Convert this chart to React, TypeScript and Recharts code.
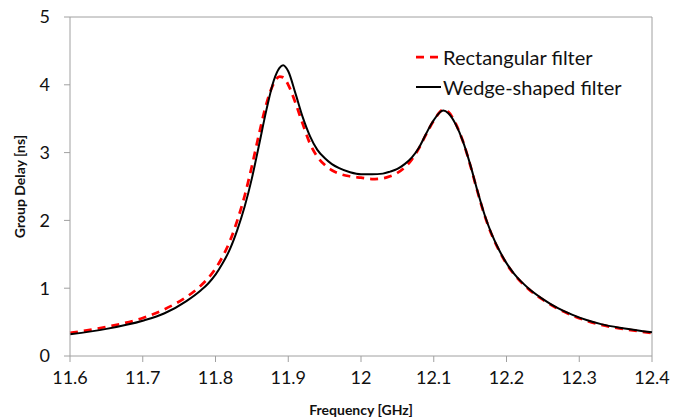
import React from 'react'
import { LineChart, Line, XAxis, YAxis, ReferenceLine } from 'recharts'

// frequency sweep in GHz (shared by both filters)
const freq = [
  11.6, 11.65, 11.7, 11.73, 11.76, 11.78, 11.79, 11.8, 11.81, 11.82, 11.83, 11.84,
  11.85, 11.86, 11.87, 11.88, 11.888, 11.893, 11.9, 11.91, 11.92, 11.93, 11.94, 11.95,
  11.96, 11.97, 11.985, 12.0, 12.015, 12.03, 12.04, 12.05, 12.06, 12.07, 12.08, 12.09,
  12.1, 12.113, 12.12, 12.13, 12.14, 12.15, 12.16, 12.17, 12.18, 12.19, 12.2, 12.21,
  12.22, 12.23, 12.25, 12.27, 12.29, 12.31, 12.33, 12.36, 12.4,
]

// group delay in ns
const rectangular = [
  0.34, 0.43, 0.56, 0.69, 0.87, 1.04, 1.15, 1.29, 1.47, 1.7, 2.0, 2.36,
  2.8, 3.28, 3.72, 4.02, 4.12, 4.11, 4.0, 3.73, 3.42, 3.13, 2.94, 2.82,
  2.74, 2.69, 2.65, 2.63, 2.61, 2.62, 2.65, 2.7, 2.78, 2.9, 3.07, 3.28,
  3.47, 3.63, 3.6, 3.43, 3.17, 2.82, 2.43, 2.07, 1.78, 1.55, 1.36, 1.21,
  1.09, 0.99, 0.83, 0.7, 0.6, 0.52, 0.46, 0.4, 0.34,
]
const wedge = [
  0.32, 0.4, 0.52, 0.63, 0.81, 0.97, 1.07, 1.2, 1.37, 1.58, 1.86, 2.2,
  2.62, 3.12, 3.63, 4.06, 4.25, 4.29, 4.2, 3.87, 3.52, 3.24, 3.04, 2.92,
  2.83, 2.77, 2.71, 2.68, 2.68, 2.69, 2.72, 2.76, 2.83, 2.93, 3.08, 3.29,
  3.48, 3.62, 3.58, 3.42, 3.17, 2.83, 2.44, 2.08, 1.79, 1.56, 1.37, 1.22,
  1.1, 1.0, 0.84, 0.71, 0.61, 0.53, 0.47, 0.41, 0.35,
]

const xTicks = [11.6, 11.7, 11.8, 11.9, 12, 12.1, 12.2, 12.3, 12.4]
const yTicks = [0, 1, 2, 3, 4, 5]

const data = freq.map((f, i) => ({ f, rect: rectangular[i], wedge: wedge[i] }))

const FONT = 'Lato, "Open Sans", sans-serif'
const AXIS = '#a0a0a0'

// legend drawn as an overlay so it doesn't shrink the plot area
function LegendBox() {
  return (
    <div
      style={{
        position: 'absolute', left: 414, top: 42,
        fontFamily: FONT, fontSize: 20, color: '#111', lineHeight: '30px',
      }}
    >
      <div style={{ display: 'flex', alignItems: 'center' }}>
        <svg width={29} height={10}>
          <line x1={2} y1={5} x2={27} y2={5} stroke="#ff0000" strokeWidth={2.75} strokeDasharray="8 6" />
        </svg>
        <span>Rectangular filter</span>
      </div>
      <div style={{ display: 'flex', alignItems: 'center' }}>
        <svg width={29} height={10}>
          <line x1={2} y1={5} x2={27} y2={5} stroke="#000" strokeWidth={2} />
        </svg>
        <span>Wedge-shaped filter</span>
      </div>
    </div>
  )
}

export default function App() {
  return (
    <div style={{ position: 'relative', width: 684, height: 419, background: '#fff' }}>
      <style>{'body{margin:0}'}</style>
      <LineChart width={684} height={419} data={data} margin={{ top: 17, right: 32, left: 0, bottom: 0 }}>
        <XAxis
          dataKey="f"
          type="number"
          domain={[11.6, 12.4]}
          ticks={xTicks}
          height={63}
          stroke={AXIS}
          tickSize={6}
          tickMargin={9}
          tick={{ fill: '#111', fontSize: 18, fontFamily: FONT }}
          label={{ value: 'Frequency [GHz]', position: 'insideBottom', offset: 4, fill: '#111', fontSize: 14, fontWeight: 700, fontFamily: FONT }}
        />
        <YAxis
          type="number"
          domain={[0, 5]}
          ticks={yTicks}
          width={70}
          stroke={AXIS}
          tickSize={6}
          tickMargin={14}
          tick={{ fill: '#111', fontSize: 18, fontFamily: FONT }}
          label={{ value: 'Group Delay [ns]', angle: -90, position: 'insideLeft', offset: 20, fill: '#111', fontSize: 14, fontWeight: 700, fontFamily: FONT, style: { textAnchor: 'middle' } }}
        />
        <ReferenceLine y={5} stroke={AXIS} />
        <ReferenceLine x={12.4} stroke={AXIS} />
        <Line
          name="Rectangular filter"
          type="monotone"
          dataKey="rect"
          stroke="#ff0000"
          strokeWidth={2.75}
          strokeDasharray="8 6"
          dot={false}
          isAnimationActive={false}
        />
        <Line
          name="Wedge-shaped filter"
          type="monotone"
          dataKey="wedge"
          stroke="#000"
          strokeWidth={2}
          dot={false}
          isAnimationActive={false}
        />
      </LineChart>
      <LegendBox />
    </div>
  )
}
